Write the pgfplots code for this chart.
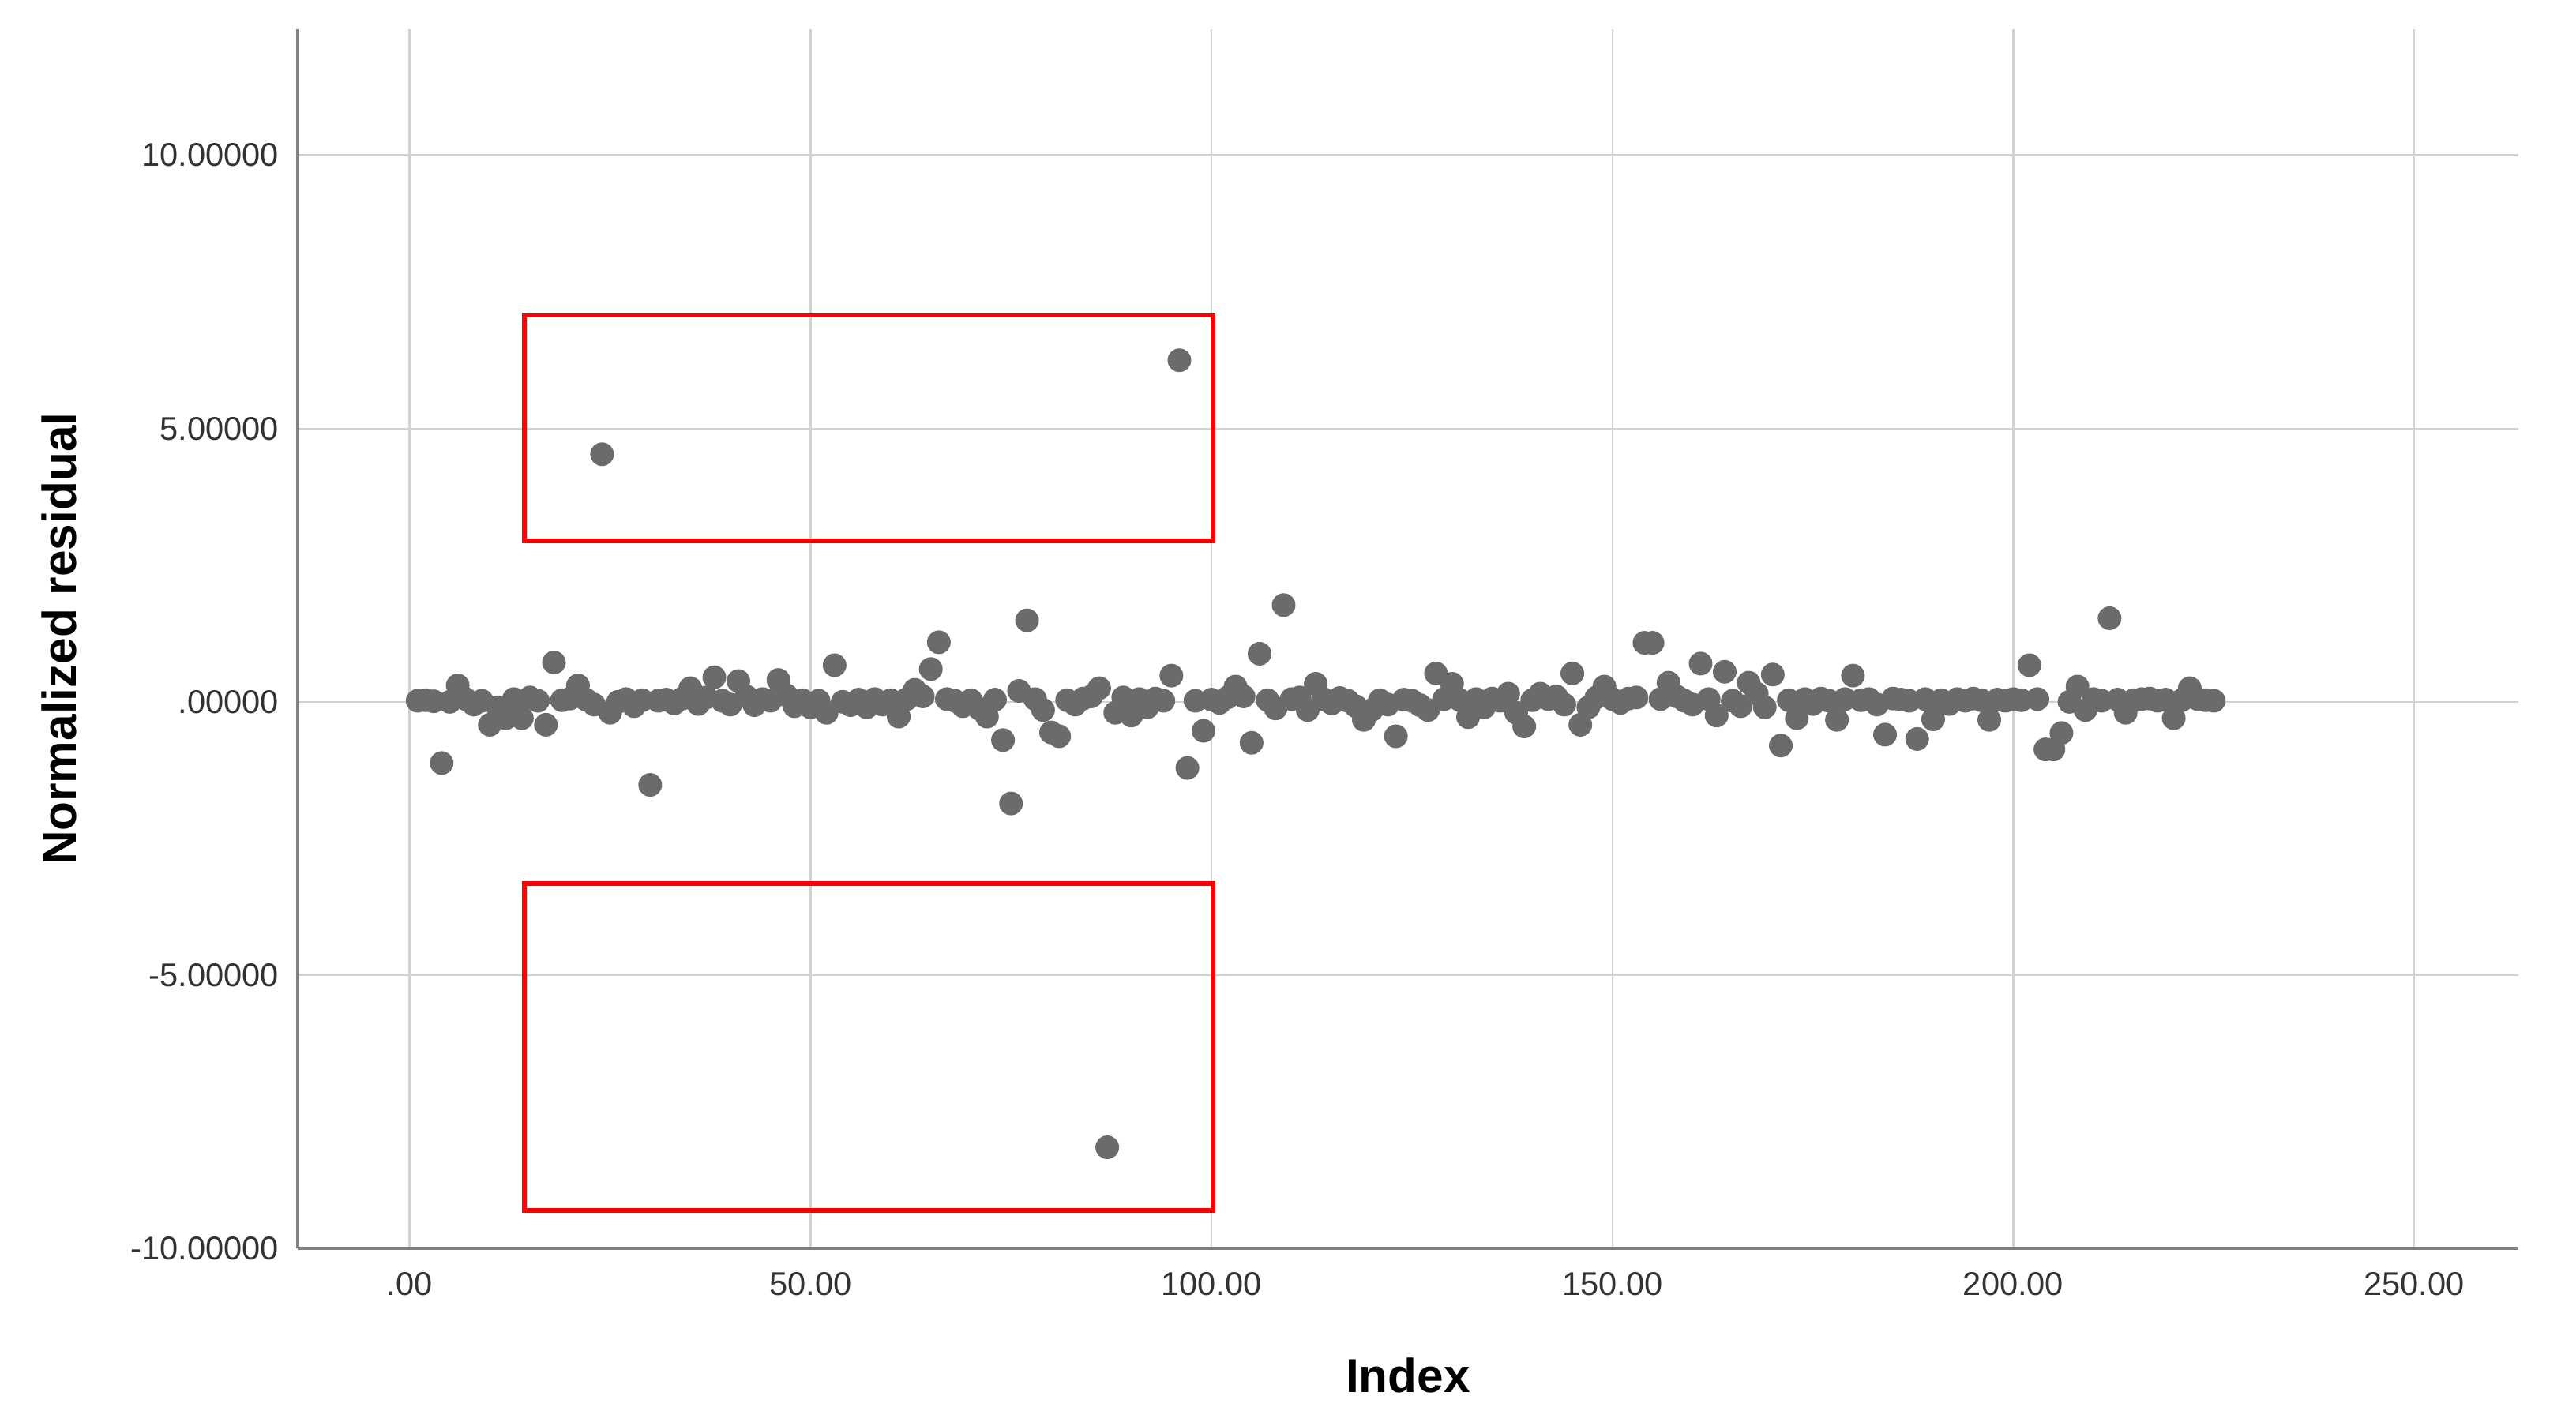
\documentclass[border=0pt]{standalone}
\usepackage{fontspec}
\setmainfont{Liberation Sans}
\usepackage{pgfplots}
\usepackage{pgfplotstable}
\pgfplotsset{compat=1.18}
\definecolor{dotc}{RGB}{107,107,107}
\definecolor{gridc}{RGB}{210,210,210}
\definecolor{axc}{RGB}{128,128,128}
\definecolor{tickc}{RGB}{50,50,50}
\pgfplotstableread{
x y
1 0.02
2 0.03
3 0.01
4 -1.12
5 0.00
6 0.30
7 0.05
8 -0.05
9 0.02
10 -0.42
11 -0.10
12 -0.30
13 0.05
14 -0.30
15 0.08
16 0.02
17 -0.42
18 0.72
19 0.03
20 0.06
21 0.30
22 0.04
23 -0.05
24 4.53
25 -0.20
26 0.00
27 0.05
28 -0.08
29 0.03
30 -1.52
31 0.02
32 0.04
33 -0.03
34 0.06
35 0.25
36 -0.04
37 0.08
38 0.45
39 0.02
40 -0.05
41 0.38
42 0.10
43 -0.06
44 0.05
45 0.02
46 0.40
47 0.12
48 -0.08
49 0.03
50 -0.10
51 0.02
52 -0.20
53 0.67
54 0.00
55 -0.06
56 0.04
57 -0.10
58 0.05
59 -0.05
60 0.03
61 -0.27
62 0.05
63 0.22
64 0.10
65 0.60
66 1.09
67 0.05
68 0.02
69 -0.08
70 0.03
71 -0.12
72 -0.27
73 0.04
74 -0.70
75 -1.86
76 0.20
77 1.49
78 0.05
79 -0.15
80 -0.56
81 -0.63
82 0.03
83 -0.05
84 0.06
85 0.10
86 0.25
87 -8.15
88 -0.20
89 0.08
90 -0.25
91 0.05
92 -0.10
93 0.06
94 0.02
95 0.48
96 6.25
97 -1.21
98 0.02
99 -0.53
100 0.04
101 -0.02
102 0.08
103 0.28
104 0.10
105 -0.75
106 0.88
107 0.03
108 -0.12
109 1.77
110 0.05
111 0.08
112 -0.15
113 0.33
114 0.05
115 -0.03
116 0.07
117 0.02
118 -0.08
119 -0.33
120 -0.15
121 0.03
122 -0.05
123 -0.63
124 0.04
125 0.02
126 -0.06
127 -0.15
128 0.52
129 0.05
130 0.33
131 0.03
132 -0.28
133 0.05
134 -0.10
135 0.06
136 0.02
137 0.15
138 -0.20
139 -0.45
140 0.03
141 0.15
142 0.05
143 0.10
144 -0.05
145 0.52
146 -0.42
147 -0.10
148 0.08
149 0.28
150 0.05
151 -0.02
152 0.06
153 0.08
154 1.08
155 1.08
156 0.05
157 0.35
158 0.10
159 0.02
160 -0.05
161 0.70
162 0.05
163 -0.25
164 0.55
165 0.02
166 -0.08
167 0.35
168 0.15
169 -0.10
170 0.50
171 -0.80
172 0.03
173 -0.30
174 0.05
175 -0.04
176 0.06
177 0.02
178 -0.33
179 0.05
180 0.48
181 0.03
182 0.05
183 -0.05
184 -0.60
185 0.06
186 0.04
187 0.02
188 -0.68
189 0.05
190 -0.32
191 0.03
192 -0.04
193 0.05
194 0.02
195 0.06
196 0.03
197 -0.33
198 0.04
199 0.02
200 0.05
201 0.03
202 0.67
203 0.05
204 -0.87
205 -0.87
206 -0.57
207 0.00
208 0.28
209 -0.15
210 0.05
211 0.02
212 1.53
213 0.04
214 -0.20
215 0.03
216 0.05
217 0.06
218 0.02
219 0.04
220 -0.30
221 0.03
222 0.25
223 0.05
224 0.03
225 0.02
}\resid
\begin{document}
\begin{tikzpicture}
\useasboundingbox (-90.5pt,-54pt) rectangle (693.5pt,380pt);
\begin{axis}[
  at={(0,0)}, anchor=south west,
  scale only axis, width=676pt, height=371pt,
  xmin=-14, xmax=263, ymin=-10, ymax=12.3,
  axis lines*=left,
  axis line style={color=axc, line width=0.8pt},
  xtick={0,50,100,150,200,250},
  xticklabels={.00,50.00,100.00,150.00,200.00,250.00},
  ytick={-10,-5,0,5,10},
  yticklabels={-10.00000,-5.00000,.00000,5.00000,10.00000},
  major tick length=0pt,
  grid=major,
  major grid style={color=gridc, line width=0.6pt},
  tick label style={font=\fontsize{10}{12}\selectfont, text=tickc},
  x tick label style={anchor=north, inner sep=0pt, yshift=-7pt},
  y tick label style={anchor=east, inner sep=0pt, xshift=-5.5pt},
  xlabel={Index},
  ylabel={Normalized residual},
  label style={font=\fontsize{14.5}{17}\selectfont\bfseries},
  x label style={at={(axis description cs:0.5,-0.104)}, anchor=center},
  y label style={at={(axis description cs:-0.1072,0.5)}, anchor=center, rotate=0},
  clip=false,
]
\addplot[only marks, mark=*, mark size=3.4pt, color=dotc, mark options={fill=dotc, draw=dotc}] table[x=x, y=y] {\resid};
\addplot[red, line width=1.4pt, mark=none] coordinates {(14.3,2.95) (100.2,2.95) (100.2,7.07) (14.3,7.07)} -- cycle;
\addplot[red, line width=1.4pt, mark=none] coordinates {(14.3,-9.31) (100.2,-9.31) (100.2,-3.33) (14.3,-3.33)} -- cycle;
\end{axis}
\end{tikzpicture}
\end{document}
